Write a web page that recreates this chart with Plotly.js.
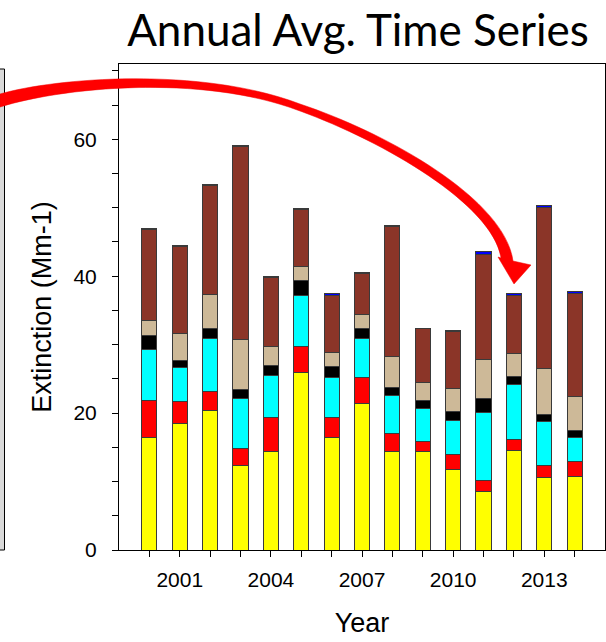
<!DOCTYPE html>
<html>
<head>
<meta charset="utf-8">
<script src="https://cdn.plot.ly/plotly-3.0.1.min.js"></script>
<style>
html,body{margin:0;padding:0;background:#fff;}
#chart{width:606px;height:642px;}
</style>
</head>
<body>
<div id="chart"></div>
<script>
// ---- data ----
const years = [2000,2001,2002,2003,2004,2005,2006,2007,2008,2009,2010,2011,2012,2013,2014];
const yellowVals = [16.5,18.5,20.4,12.3,14.4,25.9,16.5,21.4,14.4,14.4,11.8,8.5,14.5,10.6,10.8];
const redVals    = [5.4,3.2,2.8,2.6,5.0,3.9,2.8,3.8,2.6,1.4,2.2,1.7,1.7,1.8,2.1];
const cyanVals   = [7.4,5.0,7.7,7.3,6.1,7.4,5.9,5.7,5.6,4.8,4.9,9.9,8.0,6.4,3.5];
const blackVals  = [2.1,1.0,1.4,1.2,1.4,2.2,1.6,1.5,1.2,1.3,1.4,2.0,1.1,1.0,1.1];
const tanVals    = [2.2,4.0,5.0,7.4,2.8,2.0,2.0,2.0,4.5,2.6,3.3,5.8,3.4,6.7,4.9];
const brownVals  = [13.2,12.7,16.0,28.1,10.1,8.3,8.4,6.0,18.9,7.8,8.3,15.3,8.5,23.6,15.1];
const blueVals   = [0.2,0.1,0.1,0.2,0.2,0.2,0.2,0.1,0.2,0.1,0.1,0.4,0.2,0.3,0.2];

const xTickVals = years;
const xTickText = ["","2001","","","2004","","","2007","","","2010","","","2013",""];
const yTickVals = [0,5,10,15,20,25,30,35,40,45,50,55,60,65,70];
const yTickText = ["0","","","","20","","","","40","","","","60","",""];

const titleText = "Annual Avg. Time Series";
const xTitle = "Year";
const yTitle = "Extinction (Mm-1)";

// ---- traces ----
const seriesList = [
  {v: yellowVals, c: "#ffff00"},
  {v: redVals,    c: "#ff0000"},
  {v: cyanVals,   c: "#00ffff"},
  {v: blackVals,  c: "#000000"},
  {v: tanVals,    c: "#cdb998"},
  {v: brownVals,  c: "#8b3528"},
  {v: blueVals,   c: "#0000ff"}
];
const traces = seriesList.map(s => ({
  type: "bar",
  x: years,
  y: s.v,
  width: 0.5,
  marker: {color: s.c, line: {color: "#3a3a3a", width: 1}},
  hoverinfo: "x+y",
  showlegend: false
}));

// ---- layout geometry ----
const W = 606, H = 642;
const L = 119, R = 605, T = 64, B = 550;
function P(x, y){ return ((x - L)/(R - L)).toFixed(5) + "," + ((B - y)/(B - T)).toFixed(5); }

// red curved arrow (decoration)
const arrowPath =
  "M" + P(0,94) +
  " C" + P(55,78) + " " + P(200,66) + " " + P(300,104) +
  " C" + P(390,134) + " " + P(505,200) + " " + P(513,261) +
  " L" + P(531,265) + " L" + P(514,284) + " L" + P(498,257) + " L" + P(501,258) +
  " C" + P(493,205) + " " + P(385,142) + " " + P(300,111) +
  " C" + P(200,73) + " " + P(60,88) + " " + P(0,107) + " Z";

const layout = {
  width: W, height: H,
  margin: {l: L, r: W - R, t: T, b: H - B, pad: 0},
  paper_bgcolor: "#ffffff",
  plot_bgcolor: "#ffffff",
  barmode: "stack",
  showlegend: false,
  title: {
    text: titleText,
    font: {family: "Lato, 'Open Sans', sans-serif", size: 44, color: "#000"},
    xref: "container", x: 358/W, xanchor: "center",
    yref: "container", y: 1 - 31/H, yanchor: "middle"
  },
  xaxis: {
    range: [1999, 2015],
    tickvals: xTickVals, ticktext: xTickText,
    ticks: "outside", ticklen: 6, tickwidth: 1, tickcolor: "#000",
    ticklabelstandoff: 5,
    showline: true, linecolor: "#000", linewidth: 1, mirror: true,
    showgrid: false, zeroline: false,
    tickfont: {family: "'Liberation Sans', Arial, sans-serif", size: 21, color: "#000"},
    title: {text: xTitle, font: {family: "'Liberation Sans', Arial, sans-serif", size: 27, color: "#000"}, standoff: 22}
  },
  yaxis: {
    range: [0, 71],
    tickvals: yTickVals, ticktext: yTickText,
    ticks: "outside", ticklen: 6, tickwidth: 1, tickcolor: "#000",
    ticklabelstandoff: 11,
    showline: true, linecolor: "#000", linewidth: 1, mirror: true,
    showgrid: false, zeroline: false,
    tickfont: {family: "'Liberation Sans', Arial, sans-serif", size: 21, color: "#000"},
    title: {text: yTitle, font: {family: "'Liberation Sans', Arial, sans-serif", size: 27, color: "#000"}, standoff: 13}
  },
  shapes: [
    // sliver of neighbouring panel at far left
    {type: "rect", xref: "paper", yref: "paper", layer: "above",
     x0: (-6 - L)/(R - L), x1: (4.5 - L)/(R - L), y0: (B - 550)/(B - T), y1: (B - 69)/(B - T),
     fillcolor: "#d9d9d9", line: {color: "#000", width: 1}},
    {type: "path", xref: "paper", yref: "paper", layer: "above",
     path: arrowPath, fillcolor: "#ff0000", line: {color: "#ee0000", width: 0.5}}
  ]
};

Plotly.newPlot("chart", traces, layout, {displayModeBar: false, staticPlot: true});
</script>
</body>
</html>
